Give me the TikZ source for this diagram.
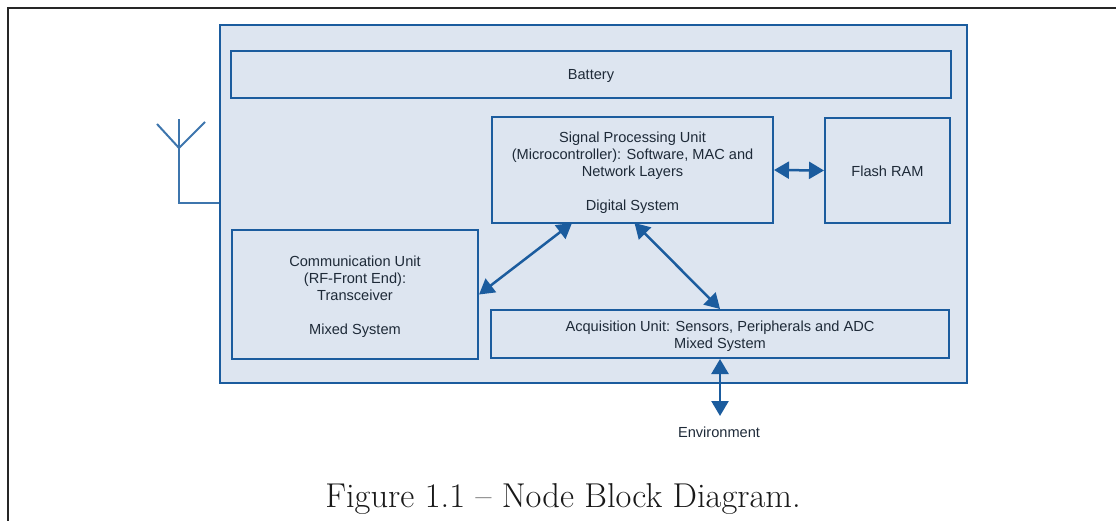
\documentclass[tikz,border=0pt]{standalone}
\usepackage{fontspec}
\setsansfont{Liberation Sans}
\usetikzlibrary{arrows.meta}
\definecolor{bord}{HTML}{1B5C9E}
\definecolor{boxfill}{HTML}{DDE5F0}
\definecolor{txt}{HTML}{1E2A38}
\begin{document}
\begin{tikzpicture}[x=1pt,y=-1pt,
  blk/.style={draw=bord, line width=2pt, fill=boxfill, inner sep=0pt},
  blktext/.style={inner sep=0pt, align=center, font=\sffamily\fontsize{14.6}{17}\selectfont, text=txt},
  dbl/.style={draw=bord, line width=2.5pt, {Triangle[length=15pt,width=17pt]}-{Triangle[length=15pt,width=17pt]}},
  lbl/.style={font=\sffamily\fontsize{14.6}{17}\selectfont, text=txt, inner sep=1pt}
]
\useasboundingbox (0,0) rectangle (1116,521);
% page frame
\draw[black!85, line width=1.2pt] (8,521) -- (8,8) -- (1116,8);
% outer node box
\node[blk, minimum width=747pt, minimum height=358pt, anchor=north west] (outer) at (219,24) {};
% antenna
\coordinate (ant) at (179,203);
\draw[bord!85, line width=2pt] (outer.west |- ant) -- (ant) -- (179,119);
\draw[bord!85, line width=2pt] (157,124) -- (179,148) -- (205,122);
% blocks
\node[blk, minimum width=720pt, minimum height=47pt, anchor=north west] (bat) at (230,50) {};
\node[blktext] (batT) at ([yshift=-1pt]bat.center) {Battery};
\node[blk, minimum width=281pt, minimum height=106pt, anchor=north west] (spu) at (491,116) {};
\node[blktext] (spuT) at ([yshift=-3pt]spu.center)
  {Signal Processing Unit\\(Microcontroller): Software, MAC and\\Network Layers\\[17pt]Digital System};
\node[blk, minimum width=125pt, minimum height=105pt, anchor=north west] (flash) at (824,117) {};
\node[blktext] (flashT) at ([yshift=-1pt]flash.center) {Flash RAM};
\node[blk, minimum width=246pt, minimum height=129pt, anchor=north west] (comm) at (231,229) {};
\node[blktext] (commT) at ([yshift=-2pt]comm.center)
  {Communication Unit\\(RF-Front End):\\Transceiver\\[17pt]Mixed System};
\node[blk, minimum width=458pt, minimum height=48pt, anchor=north west] (acq) at (490,309) {};
\node[blktext] (acqT) at ([yshift=-2pt]acq.center)
  {Acquisition Unit: Sensors, Peripherals and ADC\\Mixed System};
\node[lbl, anchor=north] (env) at (719,426) {Environment};
% connectors
\draw[dbl] (spu.east) -- (flash.west);
\draw[dbl] ([xshift=81pt,yshift=1pt]spu.south west) -- (comm.east);
\draw[dbl] ([xshift=2pt,yshift=1pt]spu.south) -- (acq.north);
\draw[dbl] (acq.south) -- ([yshift=10pt]acq.south |- env.north);
% caption
\node[font=\fontsize{34.5}{40}\selectfont, text=black!90, inner sep=0pt, anchor=base] (cap) at (563,507) {Figure 1.1 – Node Block Diagram.};
\end{tikzpicture}
\end{document}
